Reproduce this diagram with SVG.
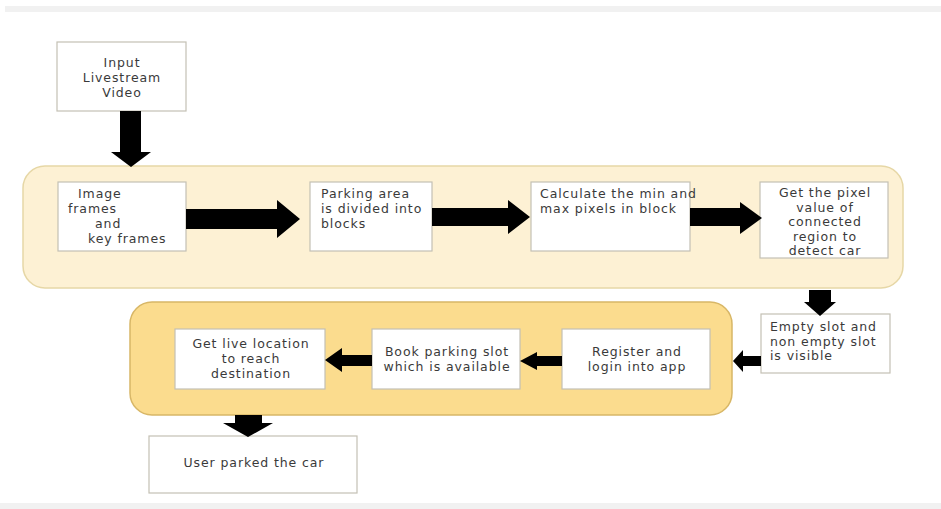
<svg xmlns="http://www.w3.org/2000/svg" width="941" height="509" viewBox="0 0 941 509">
<style>
.box{fill:#fff;stroke:#c4c0b4;stroke-width:1.2}
.t{font-family:"DejaVu Sans","Liberation Sans",sans-serif;font-size:12.5px;letter-spacing:0.9px;fill:#3a3a3a}
.c{text-anchor:middle}
.arr{fill:#000}
</style>
<rect x="0" y="0" width="941" height="509" fill="#fff"/>
<rect x="5" y="6" width="936" height="6" fill="#f1f1f1"/>
<rect x="0" y="503" width="941" height="6" fill="#f1f1f1"/>
<g id="top-container"><rect x="23" y="166" width="880" height="122" rx="22" fill="#fdf1d4" stroke="#e6d7a6" stroke-width="1.5"/></g>
<g id="bottom-container"><rect x="130" y="302" width="602" height="113" rx="22" fill="#fbdc8e" stroke="#d8b767" stroke-width="1.5"/></g>

<g id="input"><rect class="box" x="57" y="42" width="129" height="69"/>
<text class="t c" x="122" y="67">Input</text><text class="t c" x="122" y="82">Livestream</text><text class="t c" x="122" y="97">Video</text></g>

<g id="frames"><rect class="box" x="58" y="182" width="128" height="69"/>
<text class="t" x="78" y="198">Image</text><text class="t" x="68" y="213">frames</text><text class="t" x="95" y="228">and</text><text class="t" x="88" y="243">key frames</text></g>

<g id="blocks"><rect class="box" x="310" y="182" width="122" height="69"/>
<text class="t" x="321" y="198">Parking area</text><text class="t" x="321" y="213">is divided into</text><text class="t" x="321" y="228">blocks</text></g>

<g id="minmax"><rect class="box" x="531" y="182" width="159" height="69"/>
<text class="t" x="540" y="198">Calculate the min and</text><text class="t" x="540" y="213">max pixels in block</text></g>

<g id="pixel"><rect class="box" x="760" y="182" width="128" height="76"/>
<text class="t c" x="825" y="197">Get the pixel</text><text class="t c" x="825" y="211.5">value of</text><text class="t c" x="825" y="226">connected</text><text class="t c" x="825" y="240.5">region to</text><text class="t c" x="825" y="255">detect car</text></g>

<g id="slots"><rect class="box" x="761" y="314" width="129" height="59"/>
<text class="t" x="770" y="331">Empty slot and</text><text class="t" x="770" y="345.5">non empty slot</text><text class="t" x="770" y="360">is visible</text></g>

<g id="register"><rect class="box" x="562" y="329" width="148" height="60"/>
<text class="t c" x="637" y="356">Register and</text><text class="t c" x="637" y="371">login into app</text></g>

<g id="book"><rect class="box" x="372" y="329" width="148" height="60"/>
<text class="t c" x="447" y="356">Book parking slot</text><text class="t c" x="447" y="371">which is available</text></g>

<g id="location"><rect class="box" x="175" y="329" width="150" height="60"/>
<text class="t c" x="251" y="348">Get live location</text><text class="t c" x="251" y="363">to reach</text><text class="t c" x="251" y="378">destination</text></g>

<g id="parked"><rect class="box" x="149" y="436" width="208" height="57"/>
<text class="t c" x="254" y="467">User parked the car</text></g>

<g id="connectors">
<polygon class="arr" points="120,111 141,111 141,152 151,152 131,167 111,152 120,152"/>
<polygon class="arr" points="186,209 277,209 277,200 300,219 277,238 277,229 186,229"/>
<polygon class="arr" points="432,208 508,208 508,200 530,217 508,234 508,226 432,226"/>
<polygon class="arr" points="690,208 740,208 740,202 762,218 740,234 740,226 690,226"/>
<polygon class="arr" points="809,290 831,290 831,302 836,302 820,316 804,302 809,302"/>
<polygon class="arr" points="761,356 743,356 743,350 733,361 743,372 743,366 761,366"/>
<polygon class="arr" points="562,356 537,356 537,352 520,361 537,370 537,366 562,366"/>
<polygon class="arr" points="372,355 342,355 342,348 325,360 342,372 342,366 372,366"/>
<polygon class="arr" points="235,415 262,415 262,423 273,423 248,437 223,423 235,423"/>
</g>
</svg>
